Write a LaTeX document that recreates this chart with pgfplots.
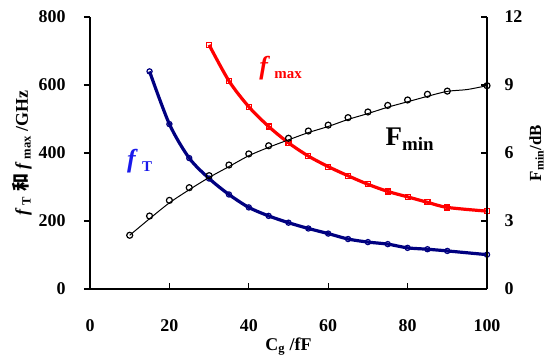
\documentclass[border=0pt]{standalone}
\usepackage{pgfplots}
\pgfplotsset{compat=1.18}
\usepackage{fontspec}
\setmainfont{Liberation Serif}
\newfontfamily\cjk{Noto Sans CJK SC}
\definecolor{navyc}{RGB}{0,0,128}
\definecolor{bluec}{RGB}{25,25,235}
\definecolor{redc}{RGB}{255,0,0}
\begin{document}
\begin{tikzpicture}[font=\fontsize{18}{20}\selectfont\bfseries]
\useasboundingbox (-90bp,-74bp) rectangle (461bp,289bp);
\begin{axis}[
  scale only axis, width=397bp, height=272bp,
  xmin=0, xmax=100, ymin=0, ymax=800,
  axis x line*=bottom, axis y line*=left,
  axis line style={line width=1.6bp,-},
  xtick={0,20,...,100}, ytick={0,200,...,800},
  tick align=inside, major tick length=6bp,
  tick style={line width=1.2bp,black},
  ytick style={xshift=-6bp},
  /pgf/number format/assume math mode=true,
  xticklabel style={font=\fontsize{18}{20}\selectfont\bfseries, yshift=-27bp},
  yticklabel style={font=\fontsize{18}{20}\selectfont\bfseries, xshift=-21bp},
  xlabel={C\textsubscript{g} /fF},
  xlabel style={font=\fontsize{18}{20}\selectfont\bfseries, yshift=1bp},
  ylabel={\textit{f}\,\textsubscript{T} {\cjk 和} \textit{f}\,\textsubscript{max} /GHz},
  ylabel style={font=\fontsize{18}{20}\selectfont\bfseries, yshift=0bp},
  clip=false,
]
\addplot[navyc, line width=3.2bp, smooth, mark=o, mark size=2.6bp, mark options={line width=1.2bp}]
coordinates {(15,640)(20,485)(25,385)(30,325)(35,278)(40,240)(45,215)(50,195)(55,178)(60,163)(65,147)(70,138)(75,132)(80,121)(85,117)(90,112)(100,101)};
\addplot[redc, line width=3.2bp, smooth, mark=square, mark size=2.5bp, mark options={line width=1.2bp}]
coordinates {(30,718)(35,612)(40,536)(45,478)(50,430)(55,391)(60,360)(65,333)(70,308)(75,287)(80,271)(85,255)(90,240)(100,229)};
\node[text=bluec, font=\fontsize{26}{28}\selectfont\bfseries] at (axis cs:12.5,375) {\textit{f}\,\fontsize{15}{17}\selectfont\raisebox{-4bp}{T}};
\node[text=redc, font=\fontsize{26}{28}\selectfont\bfseries] at (axis cs:48,650) {\textit{f}\,\fontsize{15}{17}\selectfont\raisebox{-4bp}{max}};
\node[text=black, font=\fontsize{27}{29}\selectfont\bfseries] at (axis cs:80.5,440) {F\fontsize{19}{21}\selectfont\raisebox{-5bp}{min}};
\end{axis}
\begin{axis}[
  scale only axis, width=397bp, height=272bp,
  xmin=0, xmax=100, ymin=0, ymax=12,
  axis x line=none, axis y line*=right,
  axis line style={line width=1.6bp,-},
  ytick={0,3,...,12},
  tick align=inside, major tick length=6bp,
  tick style={line width=1.2bp,black},
  /pgf/number format/assume math mode=true,
  yticklabel style={font=\fontsize{18}{20}\selectfont\bfseries, xshift=14bp},
  ylabel={F\textsubscript{min}/dB},
  ylabel style={font=\fontsize{17}{20}\selectfont\bfseries},
  clip=false,
]
\addplot[black, line width=1bp, smooth]
coordinates {(10,2.37)(15,3.1)(20,3.8)(25,4.38)(30,4.92)(35,5.4)(40,5.88)(45,6.25)(50,6.58)(55,6.9)(60,7.17)(65,7.48)(70,7.74)(75,8.02)(80,8.26)(85,8.5)(90,8.72)(95,8.8)(100,8.97)};
\addplot[black, only marks, mark=o, mark size=3bp, mark options={line width=1.2bp}]
coordinates {(10,2.37)(15,3.22)(20,3.91)(25,4.47)(30,5.0)(35,5.47)(40,5.96)(45,6.32)(50,6.65)(55,6.97)(60,7.23)(65,7.56)(70,7.81)(75,8.10)(80,8.34)(85,8.59)(90,8.73)(100,8.97)};
\end{axis}
\end{tikzpicture}
\end{document}
